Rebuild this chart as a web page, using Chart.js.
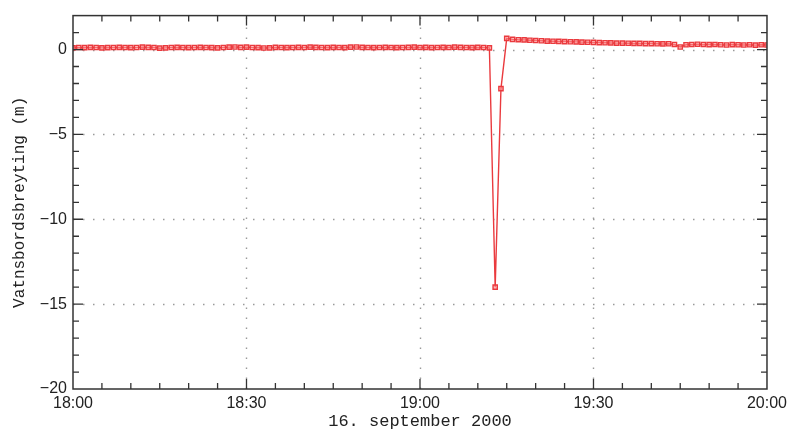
<!DOCTYPE html>
<html>
<head>
<meta charset="utf-8">
<script src="https://cdn.jsdelivr.net/npm/chart.js@4"></script>
<style>
    html, body { margin: 0; padding: 0; background: #fff; }
    #wrap { width: 792px; height: 432px; }
</style>
</head>
<body>
<div id="wrap"><canvas id="levelChart" width="792" height="432"></canvas></div>
<script>
// minutes after 18:00, one sample per minute
const minutes = [
    0, 1, 2, 3, 4, 5, 6, 7, 8, 9, 10, 11, 12, 13, 14, 15, 16, 17, 18, 19,
    20, 21, 22, 23, 24, 25, 26, 27, 28, 29, 30, 31, 32, 33, 34, 35, 36, 37, 38, 39,
    40, 41, 42, 43, 44, 45, 46, 47, 48, 49, 50, 51, 52, 53, 54, 55, 56, 57, 58, 59,
    60, 61, 62, 63, 64, 65, 66, 67, 68, 69, 70, 71, 72, 73, 74, 75, 76, 77, 78, 79,
    80, 81, 82, 83, 84, 85, 86, 87, 88, 89, 90, 91, 92, 93, 94, 95, 96, 97, 98, 99,
    100, 101, 102, 103, 104, 105, 106, 107, 108, 109, 110, 111, 112, 113, 114, 115, 116, 117, 118, 119,
    120
];

// vannstandsendring (m)
const levels = [
    0.10, 0.12, 0.11, 0.13, 0.12, 0.10, 0.11, 0.12, 0.13, 0.12,
    0.11, 0.12, 0.14, 0.13, 0.12, 0.08, 0.10, 0.12, 0.13, 0.12,
    0.11, 0.12, 0.13, 0.12, 0.11, 0.10, 0.12, 0.14, 0.15, 0.13,
    0.14, 0.12, 0.11, 0.09, 0.10, 0.13, 0.12, 0.11, 0.12, 0.13,
    0.12, 0.14, 0.13, 0.12, 0.11, 0.13, 0.12, 0.11, 0.14, 0.15,
    0.13, 0.12, 0.11, 0.12, 0.13, 0.12, 0.11, 0.12, 0.13, 0.14,
    0.12, 0.13, 0.11, 0.12, 0.13, 0.12, 0.14, 0.13, 0.12, 0.11,
    0.13, 0.12, 0.10, -14.0, -2.3, 0.66, 0.60, 0.58, 0.57, 0.55,
    0.53, 0.52, 0.50, 0.49, 0.48, 0.47, 0.46, 0.45, 0.44, 0.43,
    0.42, 0.41, 0.40, 0.39, 0.38, 0.38, 0.37, 0.36, 0.36, 0.35,
    0.35, 0.34, 0.33, 0.34, 0.30, 0.15, 0.28, 0.30, 0.31, 0.30,
    0.29, 0.30, 0.28, 0.27, 0.29, 0.28, 0.27, 0.28, 0.26, 0.28,
    0.27
];

const xTickLabels = { 0: '18:00', 30: '18:30', 60: '19:00', 90: '19:30', 120: '20:00' };
const yTickLabels = { 0: '0', '-5': '\u22125', '-10': '\u221210', '-15': '\u221215', '-20': '\u221220' };

const xMajor = [30, 60, 90];
const yMajor = [0, -5, -10, -15];

// frame, inward ticks and dotted grid like the original plot
const framePlugin = {
    id: 'frame',
    beforeDatasetsDraw(chart) {
        const { ctx, chartArea: a, scales: { x, y } } = chart;
        ctx.save();
        ctx.strokeStyle = '#9a9a9a';
        ctx.lineWidth = 1.4;
        ctx.setLineDash([1.5, 8.5]);
        xMajor.forEach(v => {
            const px = Math.round(x.getPixelForValue(v)) + 0.5;
            ctx.beginPath();
            ctx.moveTo(px, a.bottom);
            ctx.lineTo(px, a.top);
            ctx.stroke();
        });
        yMajor.forEach(v => {
            const py = Math.round(y.getPixelForValue(v)) + 0.5;
            ctx.beginPath();
            ctx.moveTo(a.left, py);
            ctx.lineTo(a.right, py);
            ctx.stroke();
        });
        ctx.restore();
    },
    afterDraw(chart) {
        const { ctx, chartArea: a, scales: { x, y } } = chart;
        ctx.save();
        ctx.strokeStyle = '#333';
        ctx.lineWidth = 1.5;
        ctx.strokeRect(a.left, a.top, a.right - a.left, a.bottom - a.top);
        ctx.lineWidth = 1.3;
        ctx.beginPath();
        for (let v = 5; v < 120; v += 5) {
            const len = v % 30 === 0 ? 10 : 6;
            const px = x.getPixelForValue(v);
            ctx.moveTo(px, a.bottom);
            ctx.lineTo(px, a.bottom - len);
            ctx.moveTo(px, a.top);
            ctx.lineTo(px, a.top + len);
        }
        for (let v = -19; v <= 1; v += 1) {
            const len = v % 5 === 0 ? 10 : 6;
            const py = y.getPixelForValue(v);
            ctx.moveTo(a.left, py);
            ctx.lineTo(a.left + len, py);
            ctx.moveTo(a.right, py);
            ctx.lineTo(a.right - len, py);
        }
        ctx.stroke();
        ctx.restore();
    }
};

new Chart(document.getElementById('levelChart'), {
    type: 'line',
    data: {
        labels: minutes,
        datasets: [{
            data: minutes.map((m, i) => ({ x: m, y: levels[i] })),
            borderColor: '#ea3a3e',
            borderWidth: 1.4,
            pointStyle: 'rect',
            pointRadius: 3,
            pointBorderWidth: 1.4,
            pointBorderColor: '#ea3a3e',
            pointBackgroundColor: 'rgba(255,150,150,0.55)',
            tension: 0,
            fill: false
        }]
    },
    options: {
        responsive: false,
        animation: false,
        layout: { padding: { left: 0, right: 25, top: 13, bottom: 0 } },
        plugins: {
            legend: { display: false },
            tooltip: { enabled: false }
        },
        scales: {
            x: {
                type: 'linear',
                min: 0,
                max: 120,
                grid: { display: false, drawTicks: false },
                border: { display: false },
                ticks: {
                    stepSize: 5,
                    autoSkip: false,
                    maxRotation: 0,
                    padding: 5,
                    color: '#222',
                    font: { family: 'Liberation Sans', size: 16 },
                    callback: v => xTickLabels[v] || ''
                },
                title: {
                    display: true,
                    text: '16. september 2000',
                    color: '#222',
                    padding: { top: 0, bottom: 0 },
                    font: { family: 'Liberation Mono', size: 17 }
                },
                afterFit: s => { s.height = 43; }
            },
            y: {
                min: -20,
                max: 2,
                grid: { display: false, drawTicks: false },
                border: { display: false },
                ticks: {
                    stepSize: 1,
                    autoSkip: false,
                    padding: 6,
                    color: '#222',
                    font: { family: 'Liberation Sans', size: 16 },
                    callback: v => yTickLabels[v] || ''
                },
                title: {
                    display: true,
                    text: 'Vatnsbordsbreyting (m)',
                    color: '#222',
                    padding: { top: 10, bottom: 0 },
                    font: { family: 'Liberation Mono', size: 16 }
                },
                afterFit: s => { s.width = 73; }
            }
        }
    },
    plugins: [framePlugin]
});
</script>
</body>
</html>
